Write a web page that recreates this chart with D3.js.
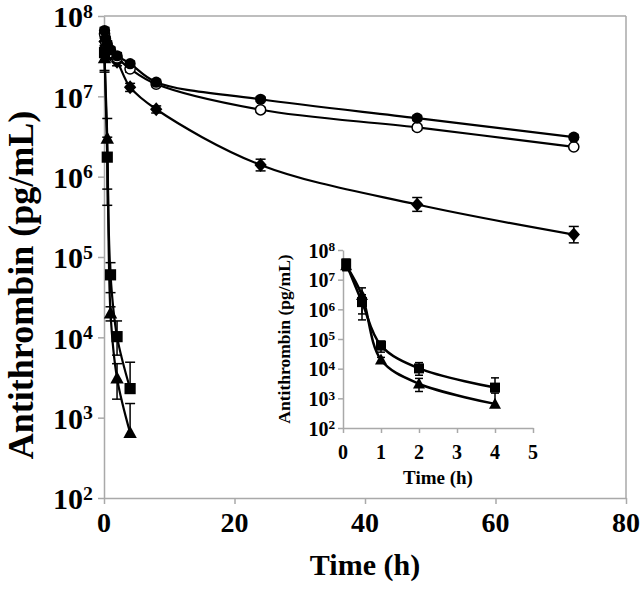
<!DOCTYPE html>
<html>
<head>
<meta charset="utf-8">
<script src="https://cdn.jsdelivr.net/npm/d3@7"></script>
<style>
  html, body { margin: 0; padding: 0; background: #fff; }
  svg { display: block; }
  text { font-family: "Liberation Serif", "Times New Roman", serif; font-weight: bold; fill: #000; }
</style>
</head>
<body>
<svg id="chart" width="644" height="592"></svg>
<script>
// ---------------- data ----------------
const yTicks = [1e2, 1e3, 1e4, 1e5, 1e6, 1e7, 1e8];
const yTickExps = ["2", "3", "4", "5", "6", "7", "8"];
const xTicksMain = [0, 20, 40, 60, 80];
const xTicksInset = [0, 1, 2, 3, 4, 5];

const timesSlow = [0.083, 0.25, 0.5, 1, 2, 4, 8, 24, 48, 72];
const filledCircle = [6.6e7, 5.2e7, 4.5e7, 3.8e7, 3.2e7, 2.55e7, 1.5e7, 9.2e6, 5.35e6, 3.1e6];
const filledCircleLo = [6.0e7, 4.8e7, 4.1e7, 3.5e7, 2.9e7, 2.35e7, 1.4e7, 8.6e6, 5.0e6, 2.9e6];
const filledCircleHi = [7.2e7, 5.6e7, 4.9e7, 4.1e7, 3.5e7, 2.75e7, 1.6e7, 9.8e6, 5.7e6, 3.3e6];
const openCircle = [6.0e7, 4.8e7, 4.2e7, 3.5e7, 3.0e7, 2.2e7, 1.42e7, 6.8e6, 4.1e6, 2.35e6];
const openCircleLo = [5.5e7, 4.4e7, 3.8e7, 3.2e7, 2.7e7, 2.0e7, 1.32e7, 6.3e6, 3.8e6, 2.2e6];
const openCircleHi = [6.5e7, 5.2e7, 4.6e7, 3.8e7, 3.3e7, 2.4e7, 1.52e7, 7.3e6, 4.4e6, 2.5e6];
const diamond = [4.8e7, 4.2e7, 3.8e7, 3.3e7, 2.7e7, 1.3e7, 6.9e6, 1.4e6, 4.5e5, 1.9e5];
const diamondLo = [4.3e7, 3.8e7, 3.4e7, 3.0e7, 2.4e7, 1.15e7, 6.2e6, 1.18e6, 3.7e5, 1.5e5];
const diamondHi = [5.3e7, 4.6e7, 4.2e7, 3.6e7, 3.0e7, 1.45e7, 7.6e6, 1.65e6, 5.5e5, 2.4e5];

const timesFast = [0.083, 0.5, 1, 2, 4];
const square = [3.5e7, 1.75e6, 6.0e4, 1.02e4, 2.3e3];
const squareLo = [2.1e7, 4.4e5, 3.6e4, 6.0e3, 2.3e3];
const squareHi = [4.9e7, 3.1e6, 8.5e4, 1.6e4, 4.9e3];
const triangle = [3.0e7, 3.0e6, 2.0e4, 3.1e3, 650];
const triangleLo = [2.0e7, 7.0e5, 1.6e4, 1.7e3, 650];
const triangleHi = [4.0e7, 5.3e6, 2.4e4, 4.7e3, 1.5e3];

const yTitle = "Antithrombin (pg/mL)";
const xTitle = "Time (h)";

// ---------------- drawing ----------------
const svg = d3.select("#chart");
const axisColor = "#a9a9a9";

function makeSeries(times, vals, lo, hi) {
  return times.map((t, i) => ({ t, v: vals[i], lo: lo[i], hi: hi[i] }));
}

const seriesSlow = [
  { data: makeSeries(timesSlow, diamond, diamondLo, diamondHi), marker: "diamond" },
  { data: makeSeries(timesSlow, openCircle, openCircleLo, openCircleHi), marker: "openCircle" },
  { data: makeSeries(timesSlow, filledCircle, filledCircleLo, filledCircleHi), marker: "circle" }
];
const seriesFast = [
  { data: makeSeries(timesFast, triangle, triangleLo, triangleHi), marker: "triangle" },
  { data: makeSeries(timesFast, square, squareLo, squareHi), marker: "square" }
];

function drawPanel(g, cfg) {
  const x = d3.scaleLinear().domain(cfg.xDomain).range([cfg.left, cfg.right]);
  const y = d3.scaleLog().domain([1e2, 1e8]).range([cfg.bottom, cfg.top]);

  if (cfg.frame) {
    g.append("line").attr("x1", cfg.left).attr("x2", cfg.right).attr("y1", cfg.top).attr("y2", cfg.top)
      .attr("stroke", axisColor).attr("stroke-width", 1.5);
    g.append("line").attr("x1", cfg.right).attr("x2", cfg.right).attr("y1", cfg.top).attr("y2", cfg.bottom)
      .attr("stroke", axisColor).attr("stroke-width", 1.5);
  }

  const ya = g.append("g").attr("transform", `translate(${cfg.left},0)`)
    .call(d3.axisLeft(y).tickValues(yTicks).tickFormat("").tickSizeInner(cfg.tick).tickSizeOuter(0));
  const xa = g.append("g").attr("transform", `translate(0,${cfg.bottom})`)
    .call(d3.axisBottom(x).tickValues(cfg.xTicks).tickFormat("").tickSizeInner(cfg.tick).tickSizeOuter(0));
  [ya, xa].forEach(a => {
    a.selectAll("path, line").attr("stroke", axisColor).attr("stroke-width", 1.5);
  });

  // y tick labels with superscripts
  yTicks.forEach((v, i) => {
    const t = g.append("text")
      .attr("x", cfg.left - cfg.yLabelGap)
      .attr("y", y(v) + cfg.yLabelSize * 0.38)
      .attr("text-anchor", "end")
      .style("font-size", cfg.yLabelSize + "px");
    t.append("tspan").text("10");
    t.append("tspan").attr("dy", -cfg.yLabelSize * 0.32).style("font-size", (cfg.yLabelSize * 0.66) + "px").text(yTickExps[i]);
  });
  cfg.xTicks.forEach(v => {
    g.append("text").attr("x", x(v)).attr("y", cfg.xLabelY).attr("text-anchor", "middle")
      .style("font-size", cfg.xLabelSize + "px").text(v);
  });
  g.append("text").attr("x", cfg.xTitleX).attr("y", cfg.xTitleY).attr("text-anchor", "middle")
    .style("font-size", cfg.xTitleSize + "px").text(xTitle);
  g.append("text").attr("transform", `translate(${cfg.yTitleX},${cfg.yTitleY}) rotate(-90)`)
    .attr("text-anchor", "middle").style("font-size", cfg.yTitleSize + "px").text(yTitle);

  const line = d3.line().x(d => x(d.t)).y(d => y(d.v)).curve(d3.curveCatmullRom.alpha(0.5));
  const series = cfg.series;
  series.forEach(s => {
    g.append("path").datum(s.data).attr("d", line).attr("fill", "none")
      .attr("stroke", "#000").attr("stroke-width", cfg.lineW);
  });
  series.forEach(s => {
    const eb = g.append("g").attr("stroke", "#000").attr("stroke-width", 1.5);
    s.data.forEach(d => {
      const cx = x(d.t);
      eb.append("line").attr("x1", cx).attr("x2", cx).attr("y1", y(d.lo)).attr("y2", y(d.hi));
      [d.lo, d.hi].forEach(e => {
        if (e !== d.v) eb.append("line").attr("x1", cx - cfg.cap).attr("x2", cx + cfg.cap).attr("y1", y(e)).attr("y2", y(e));
      });
    });
  });
  series.forEach(s => {
    const r = cfg.markR;
    s.data.forEach(d => {
      const cx = x(d.t), cy = y(d.v);
      if (s.marker === "circle") {
        g.append("circle").attr("cx", cx).attr("cy", cy).attr("r", r).attr("fill", "#000");
      } else if (s.marker === "openCircle") {
        g.append("circle").attr("cx", cx).attr("cy", cy).attr("r", r - 0.5).attr("fill", "#fff")
          .attr("stroke", "#000").attr("stroke-width", 1.5);
      } else if (s.marker === "diamond") {
        g.append("path").attr("d", `M${cx},${cy - r * 1.25}L${cx + r * 1.1},${cy}L${cx},${cy + r * 1.25}L${cx - r * 1.1},${cy}Z`).attr("fill", "#000");
      } else if (s.marker === "square") {
        g.append("rect").attr("x", cx - r).attr("y", cy - r).attr("width", 2 * r).attr("height", 2 * r).attr("fill", "#000");
      } else if (s.marker === "triangle") {
        g.append("path").attr("d", `M${cx},${cy - r * 1.25}L${cx + r * 1.2},${cy + r * 0.95}L${cx - r * 1.2},${cy + r * 0.95}Z`).attr("fill", "#000");
      }
    });
  });
}

// main panel
drawPanel(svg.append("g"), {
  xDomain: [0, 80], left: 104, right: 626, top: 16, bottom: 498,
  xTicks: xTicksMain, frame: true, tick: 6,
  yLabelSize: 30, yLabelGap: 11, xLabelSize: 28, xLabelY: 532,
  xTitleX: 365, xTitleY: 575, xTitleSize: 30,
  yTitleX: 33, yTitleY: 285, yTitleSize: 36,
  series: seriesSlow.concat(seriesFast), lineW: 2.2, cap: 5, markR: 5.6
});

// inset panel
const inset = svg.append("g");
inset.append("rect").attr("x", 270).attr("y", 238).attr("width", 280).attr("height", 254).attr("fill", "#fff");
drawPanel(inset, {
  xDomain: [0, 5], left: 343, right: 533, top: 250, bottom: 428,
  xTicks: xTicksInset, frame: false, tick: 5,
  yLabelSize: 20, yLabelGap: 8, xLabelSize: 20, xLabelY: 459,
  xTitleX: 438, xTitleY: 484, xTitleSize: 19,
  yTitleX: 290, yTitleY: 339, yTitleSize: 17.5,
  series: seriesFast, lineW: 2.5, cap: 4, markR: 5
});
</script>
</body>
</html>
